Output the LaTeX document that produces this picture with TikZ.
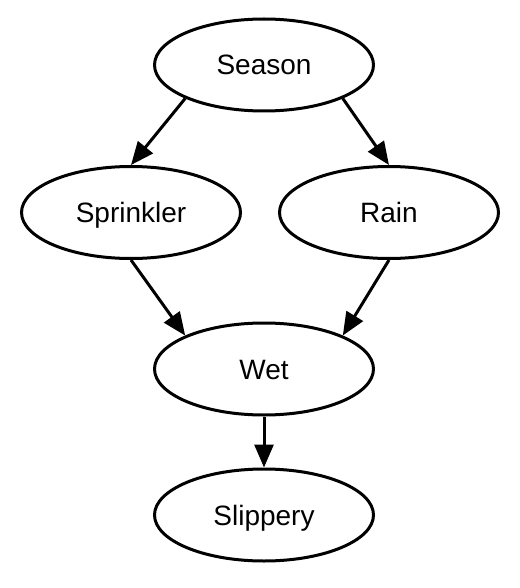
\documentclass[tikz,border=0pt]{standalone}
\usepackage{fontspec}
\setmainfont{Liberation Sans}
\usetikzlibrary{shapes.geometric,arrows.meta}
\begin{document}
\begin{tikzpicture}[x=1pt,y=-1pt,
  var/.style={ellipse, draw, line width=3pt, inner sep=0pt,
    minimum width=219pt, minimum height=92pt,
    font=\fontsize{28}{34}\selectfont, text height=20pt, text depth=0pt},
  edge/.style={line width=3pt, -{Triangle[length=23pt,width=19pt]}}]
\useasboundingbox (0,0) rectangle (519,588);
\node[var] (season) at (264,65) {Season};
\node[var] (sprinkler) at (131,212.5) {Sprinkler};
\node[var] (rain) at (389,212.5) {Rain};
\node[var] (wet) at (264,369) {Wet};
\node[var] (slippery) at (264,515) {Slippery};
\draw[edge] (season.203) -- (sprinkler.north);
\draw[edge] (season.-23) -- (rain.north);
\draw[edge] (sprinkler.south) -- (wet.157);
\draw[edge] (rain.south) -- (wet.23);
\draw[edge] (wet.south) -- (slippery.north);
\end{tikzpicture}
\end{document}
